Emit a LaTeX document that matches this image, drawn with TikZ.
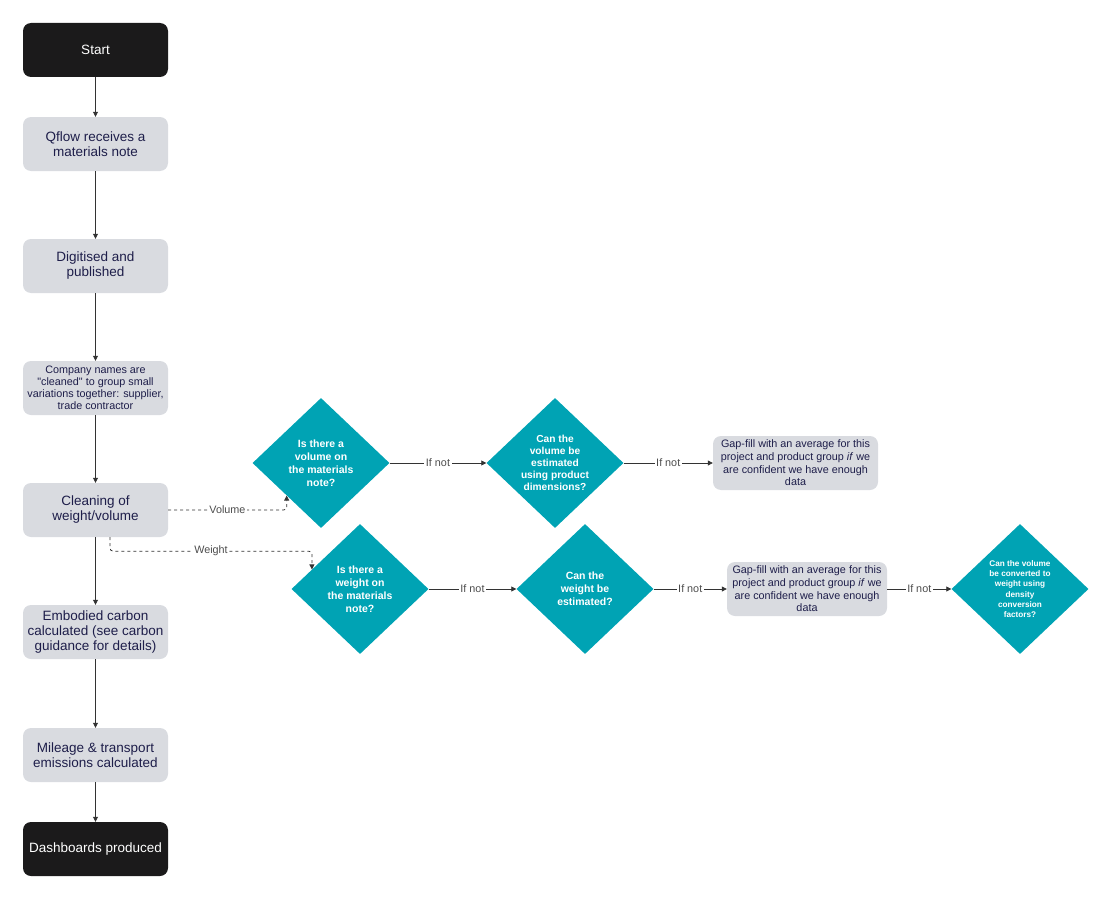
\documentclass[tikz,border=0pt]{standalone}
\usepackage{fontspec}
\setmainfont{Liberation Sans}
\usetikzlibrary{shapes.geometric,arrows.meta,calc}
\definecolor{qteal}{HTML}{00A3B4}
\definecolor{boxgrey}{HTML}{D9DBE0}
\definecolor{nearblack}{HTML}{1B1A1B}
\definecolor{navy}{HTML}{1E1E4A}
\definecolor{linegrey}{HTML}{333333}
\definecolor{labelgrey}{HTML}{4D4D4D}
\newcommand\sq{\XeTeXglyph\XeTeXcharglyph"22\relax}

\begin{document}
\begin{tikzpicture}[x=1pt,y=-1pt,
   box/.style={rectangle,rounded corners=8pt,fill=boxgrey,text=navy,minimum width=145pt,
      minimum height=54pt,inner sep=2pt,align=center,font=\fontsize{13.5}{15}\selectfont},
   endbox/.style={box,fill=nearblack,text=white},
   small/.style={font=\fontsize{10.8}{12}\selectfont},
   gap/.style={box,minimum width=165pt,font=\fontsize{10.8}{12.6}\selectfont},
   ask/.style={diamond,fill=qteal,text=white,minimum width=137pt,minimum height=130pt,
      inner sep=0pt,align=center,font=\bfseries\fontsize{10.5}{13}\selectfont},
   flow/.style={draw=linegrey,line width=0.8pt,-{Triangle[length=5pt,width=5pt]}},
   choice/.style={flow,dash pattern=on 3pt off 3pt,rounded corners=3pt},
   ifnot/.style={fill=white,text=labelgrey,inner sep=1.5pt,font=\fontsize{10.8}{12}\selectfont}]
   \useasboundingbox (0,0) rectangle (1112,899);
   % main column
   \node[endbox] (start) at (95.5,50) {Start};
   \node[box] (qflow) at (95.5,144) {Qflow receives a\\materials note};
   \node[box] (digit) at (95.5,266) {Digitised and\\published};
   \node[box,small] (names) at (95.5,388) {Company names are\\\sq cleaned\sq{} to group small\\variations together: supplier,\\trade contractor};
   \node[box] (clean) at (95.5,510) {Cleaning of\\weight/volume};
   \node[box] (carbon) at (95.5,632) {Embodied carbon\\calculated (see carbon\\guidance for details)};
   \node[box] (miles) at (95.5,755) {Mileage \& transport\\emissions calculated};
   \node[endbox] (dashb) at (95.5,849) {Dashboards produced};
   \draw[flow] (start) -- (qflow);
   \draw[flow] (qflow) -- (digit);
   \draw[flow] (digit) -- (names);
   \draw[flow] (names) -- (clean);
   \draw[flow] (clean) -- (carbon);
   \draw[flow] (carbon) -- (miles);
   \draw[flow] (miles) -- (dashb);
   % volume branch
   \node[ask] (hasvol) at (321,463) {Is there a\\volume on\\the materials\\note?};
   \node[ask,font=\bfseries\fontsize{10.2}{12}\selectfont] (estvol) at (555,463) {Can the\\volume be\\estimated\\using product\\dimensions?};
   \node[gap] (fillvol) at (795.5,463) {Gap-fill with an average for this\\project and product group \emph{if} we\\are confident we have enough\\data};
   \draw[flow] (hasvol) -- node[ifnot] {If not} (estvol);
   \draw[flow] (estvol) -- node[ifnot] {If not} (fillvol);
   % weight branch
   \node[ask] (haswt) at (360,589) {Is there a\\weight on\\the materials\\note?};
   \node[ask] (estwt) at (585,589) {Can the\\weight be\\estimated?};
   \node[gap,minimum width=160pt] (fillwt) at (807,589) {Gap-fill with an average for this\\project and product group \emph{if} we\\are confident we have enough\\data};
   \node[ask,font=\bfseries\fontsize{8.2}{10.2}\selectfont] (convert) at (1020,589) {Can the volume\\be converted to\\weight using\\density\\conversion\\factors?};
   \draw[flow] (haswt) -- node[ifnot] {If not} (estwt);
   \draw[flow] (estwt) -- node[ifnot] {If not} (fillwt);
   \draw[flow] (fillwt) -- node[ifnot] {If not} (convert);
   % dashed choices out of the cleaning step
   \draw[choice] (clean.east) -| node[ifnot,pos=0.25] {Volume} ($(hasvol.west)!0.5!(hasvol.south)$);
   \draw[choice] ($(clean.south west)!0.6!(clean.south east)$) -- ++(0,14) -| node[ifnot,pos=0.25] {Weight} ($(haswt.west)!0.3!(haswt.north)$);
\end{tikzpicture}
\end{document}
